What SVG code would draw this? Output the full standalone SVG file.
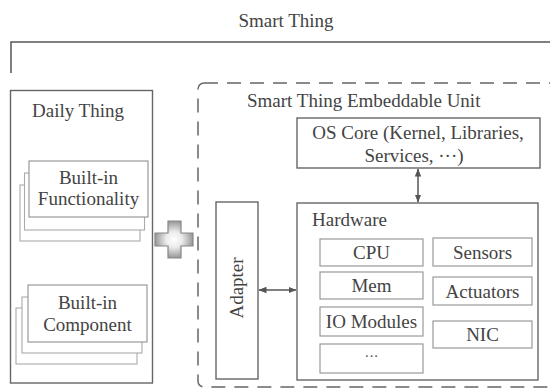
<svg xmlns="http://www.w3.org/2000/svg" width="550" height="389" viewBox="0 0 550 389" font-family="'Liberation Serif', 'Times New Roman', 'DejaVu Serif', serif">
<defs>
<style>
text{font-family:'Liberation Serif','Times New Roman','DejaVu Serif',serif;font-size:19px;fill:#444}
.c{text-anchor:middle}
.box{fill:#fff;stroke:#666;stroke-width:1.4}
.sub{fill:#fff;stroke:#999;stroke-width:1.2}
.back{fill:#fff;stroke:#aaa;stroke-width:1.1}
.conn{stroke:#555;stroke-width:1.5;fill:none}
</style>
<marker id="ah" viewBox="0 0 8 8" refX="7.5" refY="4" markerWidth="8" markerHeight="8" markerUnits="userSpaceOnUse" orient="auto-start-reverse">
<path d="M0,0.8 L8,4 L0,7.2 Z" fill="#555"/>
</marker>
<radialGradient id="pg" cx="0.5" cy="0.5" r="0.6">
<stop offset="0" stop-color="#fff"/>
<stop offset="0.35" stop-color="#ececec"/>
<stop offset="1" stop-color="#7a7a7a"/>
</radialGradient>
</defs>
<rect width="550" height="389" fill="#fff"/>

<g id="smart-thing">
<path d="M11,73 V42 H552" fill="none" stroke="#555" stroke-width="1.5"/>
<text class="c" x="286" y="27">Smart Thing</text>
</g>

<g id="daily-thing">
<rect class="box" x="10.5" y="90.5" width="142" height="292.5"/>
<text x="32" y="117">Daily Thing</text>
</g>

<g id="built-in-functionality">
<rect class="back" x="20" y="185" width="120" height="56"/>
<rect class="back" x="24.5" y="173" width="120" height="57"/>
<rect class="sub" x="29" y="161" width="119" height="56"/>
<text class="c" x="88.5" y="184">Built-in</text>
<text class="c" x="88.5" y="205">Functionality</text>
</g>

<g id="built-in-component">
<rect class="back" x="16" y="308" width="121" height="56"/>
<rect class="back" x="22" y="297" width="120" height="56"/>
<rect class="sub" x="28" y="285" width="119" height="57"/>
<text class="c" x="87.5" y="309">Built-in</text>
<text class="c" x="87.5" y="331">Component</text>
</g>

<g id="plus">
<path d="M168,221 H181 V233 H193 V246 H181 V258 H168 V246 H155 V233 H168 Z" fill="url(#pg)" stroke="#888" stroke-width="1.2"/>
</g>

<g id="embeddable-unit">
<rect x="198" y="83" width="362" height="304" rx="6" fill="none" stroke="#666" stroke-width="1.5" stroke-dasharray="14,9"/>
<text x="247" y="107">Smart Thing Embeddable Unit</text>
</g>

<g id="os-core">
<rect class="box" x="297" y="118" width="243" height="50"/>
<text class="c" x="418" y="139">OS Core (Kernel, Libraries,</text>
<text class="c" x="414" y="162">Services, ···)</text>
</g>

<g id="adapter">
<rect class="box" x="216" y="202" width="42" height="177"/>
<text class="c" transform="translate(243,288) rotate(-90)">Adapter</text>
</g>

<g id="hardware">
<rect class="box" x="297" y="203" width="241" height="177"/>
<text x="312" y="226">Hardware</text>
</g>
<g id="cpu"><rect class="sub" x="320" y="239" width="103" height="27"/><text class="c" x="371.5" y="259">CPU</text></g>
<g id="mem"><rect class="sub" x="320" y="272" width="103" height="27"/><text class="c" x="371.5" y="292">Mem</text></g>
<g id="io-modules"><rect class="sub" x="320" y="307" width="103" height="29"/><text class="c" x="371.5" y="328">IO Modules</text></g>
<g id="etc"><rect class="sub" x="320" y="344" width="103" height="29"/><text class="c" x="371.5" y="361" style="font-size:14px">···</text></g>
<g id="sensors"><rect class="sub" x="433" y="238" width="99" height="28"/><text class="c" x="482.5" y="259">Sensors</text></g>
<g id="actuators"><rect class="sub" x="433" y="277" width="99" height="28"/><text class="c" x="482.5" y="298">Actuators</text></g>
<g id="nic"><rect class="sub" x="433" y="321" width="99" height="27"/><text class="c" x="482.5" y="341">NIC</text></g>

<g id="connectors">
<line class="conn" x1="418" y1="169" x2="418" y2="202" marker-start="url(#ah)" marker-end="url(#ah)"/>
<line class="conn" x1="259" y1="290" x2="296" y2="290" marker-start="url(#ah)" marker-end="url(#ah)"/>
</g>
</svg>
